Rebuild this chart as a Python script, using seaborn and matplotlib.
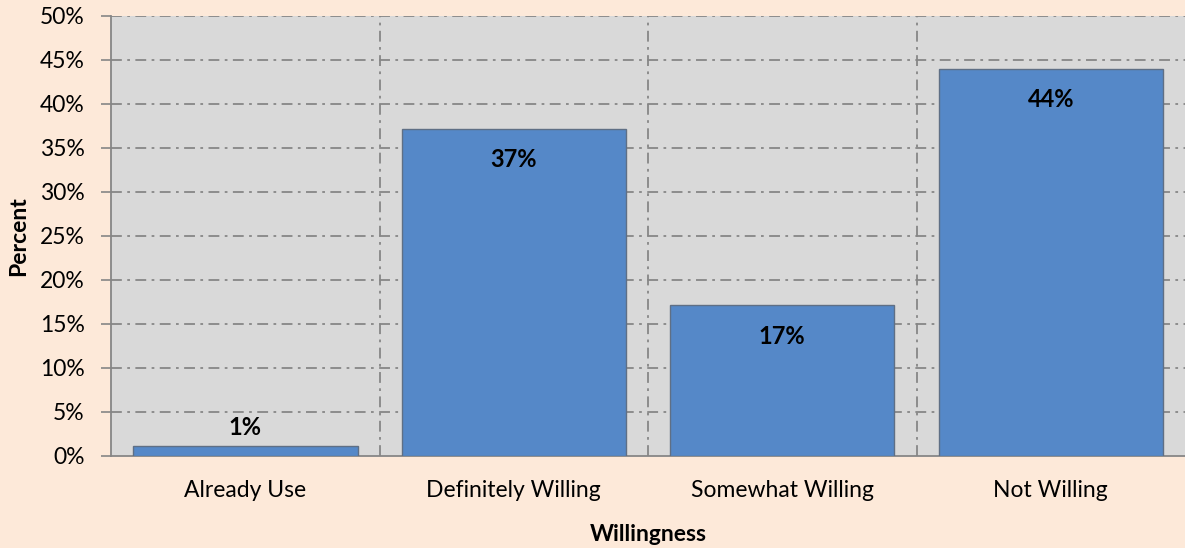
import matplotlib
matplotlib.use("Agg")
import matplotlib.pyplot as plt
import seaborn as sns
import pandas as pd
from matplotlib.ticker import FuncFormatter, FixedLocator, NullFormatter

categories = ["Already Use", "Definitely Willing", "Somewhat Willing", "Not Willing"]
values = [1.1, 37.2, 17.1, 44.0]
y_ticks = list(range(0, 55, 5))

sns.set_theme(style="white")
plt.rcParams['font.family'] = ['Lato', 'DejaVu Sans']
plt.rcParams['text.color'] = 'black'
plt.rcParams['axes.labelcolor'] = 'black'
plt.rcParams['xtick.labelcolor'] = 'black'
plt.rcParams['ytick.labelcolor'] = 'black'

df = pd.DataFrame({"Willingness": categories, "Percent": values})

fig = plt.figure(figsize=(11.85, 5.48), dpi=100, facecolor="#FDE9D9")
ax = fig.add_axes([0.0937, 0.168, 0.9063, 0.803])
ax.set_facecolor("#D9D9D9")

sns.barplot(data=df, x="Willingness", y="Percent", ax=ax, width=0.836,
            color="#5588C8", saturation=1, edgecolor="#5f6f85", linewidth=1.0, zorder=3)

ax.set_xlim(-0.5, len(categories) - 0.5)
ax.set_ylim(0, 50)
ax.yaxis.set_major_locator(FixedLocator(y_ticks))
ax.yaxis.set_major_formatter(FuncFormatter(lambda v, p: f"{v:.0f}%"))

ax.xaxis.set_minor_locator(FixedLocator([i - 0.5 for i in range(len(categories) + 1)]))
ax.xaxis.set_minor_formatter(NullFormatter())
ax.tick_params(axis="x", which="major", length=0, labelsize=16.5, pad=17, labelcolor="black")
ax.tick_params(axis="x", which="minor", length=7, width=1.2, color="#868686", direction="out")
ax.tick_params(axis="y", which="major", length=7, width=1.2, color="#868686", labelsize=16.5,
               direction="out", left=True, pad=12, labelcolor="black")

ax.grid(False)
gstyle = dict(color="#868686", linestyle=(0, (6, 3, 1.5, 3)), linewidth=1.3, zorder=1)
for yv in y_ticks[1:]:
    ax.axhline(yv, **gstyle)
for xb in [i + 0.5 for i in range(len(categories) - 1)]:
    ax.axvline(xb, **gstyle)

for s in ["top", "right"]:
    ax.spines[s].set_visible(False)
for s in ["left", "bottom"]:
    ax.spines[s].set_color("#868686")
    ax.spines[s].set_linewidth(1.3)

ax.set_ylabel("Percent", fontsize=16.5, fontweight="bold", labelpad=8, color="black")
ax.set_xlabel("Willingness", fontsize=16.5, fontweight="bold", labelpad=17, color="black")

for p, v in zip(ax.patches, values):
    cx = p.get_x() + p.get_width() / 2
    h = p.get_height()
    off = -31 if h > 5 else 19
    ax.annotate(f"{v:.0f}%", (cx, h), xytext=(0, off), textcoords="offset pixels",
                ha="center", va="center", fontsize=17, fontweight="bold", color="black", zorder=5)

fig.savefig("out.png", dpi=100, facecolor=fig.get_facecolor())
